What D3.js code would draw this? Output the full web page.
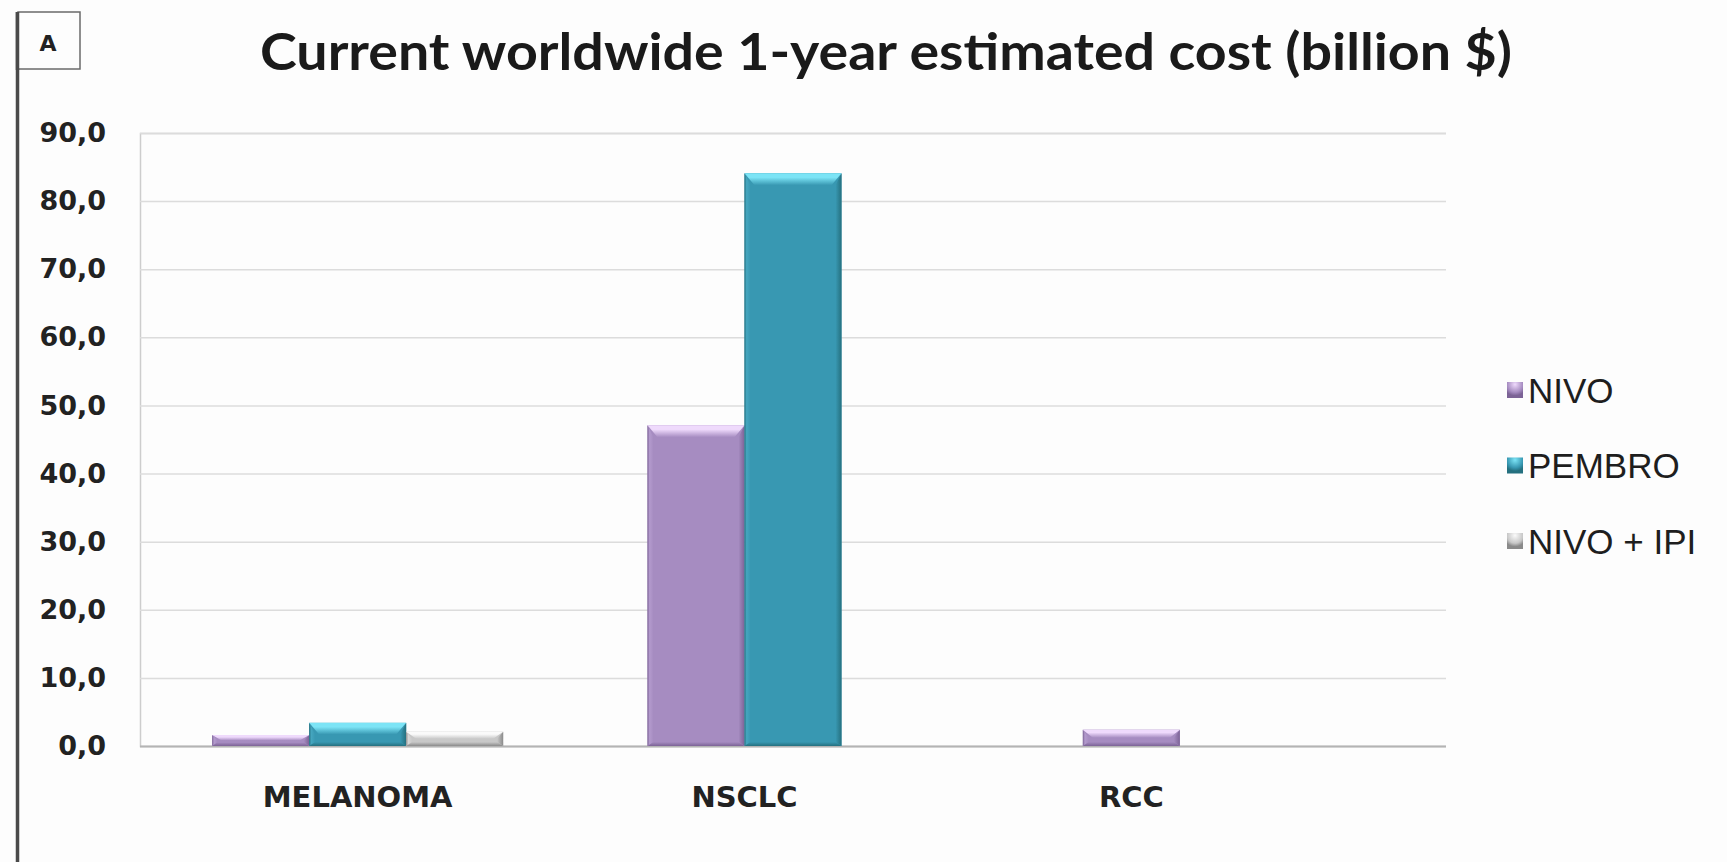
<!DOCTYPE html>
<html>
<head>
<meta charset="utf-8">
<script src="https://cdn.jsdelivr.net/npm/d3@7"></script>
<style>
  html, body { margin: 0; padding: 0; background: #fdfdfd; }
  svg { display: block; }
</style>
</head>
<body>
<div id="chart"></div>
<script>
// Data
const categories = ["MELANOMA", "NSCLC", "RCC"];
const seriesNames = ["NIVO", "PEMBRO", "NIVO + IPI"];
const nivoValues = [1.6, 47.1, 2.4];
const pembroValues = [3.4, 84.1, null];
const nivoIpiValues = [2.1, null, null];
const yTickValues = [0, 10, 20, 30, 40, 50, 60, 70, 80, 90];
const titleText = "Current worldwide 1-year estimated cost (billion $)";
const panelLetter = "A";

const seriesValues = [nivoValues, pembroValues, nivoIpiValues];

// Bevelled fills per series: body, top highlight, side highlight, shadow
const palette = {
  "NIVO":       { body: "#a68cc1", light: "#efdafc", side: "#b39acd", dark: "#7c6396" },
  "PEMBRO":     { body: "#3898b2", light: "#7ce4f6", side: "#45a6bf", dark: "#25707f" },
  "NIVO + IPI": { body: "#c8c8c8", light: "#fafafa", side: "#d8d8d8", dark: "#8a8a8a" }
};

const W = 1727, H = 862;
const plot = { left: 140, right: 1446, top: 133, bottom: 746 };

const svg = d3.select("#chart").append("svg")
  .attr("width", W).attr("height", H)
  .style("background", "#fdfdfd");

const defs = svg.append("defs");
seriesNames.forEach((s, i) => {
  const p = palette[s];
  const gTop = defs.append("linearGradient").attr("id", "top" + i)
    .attr("x1", 0).attr("y1", 0).attr("x2", 0).attr("y2", 1);
  gTop.append("stop").attr("offset", "0%").attr("stop-color", p.light);
  gTop.append("stop").attr("offset", "35%").attr("stop-color", p.light);
  gTop.append("stop").attr("offset", "100%").attr("stop-color", p.body);
  const gR = defs.append("linearGradient").attr("id", "right" + i)
    .attr("x1", 0).attr("y1", 0).attr("x2", 1).attr("y2", 0);
  gR.append("stop").attr("offset", "0%").attr("stop-color", p.body);
  gR.append("stop").attr("offset", "100%").attr("stop-color", p.dark);
  const gL = defs.append("linearGradient").attr("id", "left" + i)
    .attr("x1", 0).attr("y1", 0).attr("x2", 1).attr("y2", 0);
  gL.append("stop").attr("offset", "0%").attr("stop-color", p.dark);
  gL.append("stop").attr("offset", "35%").attr("stop-color", p.side);
  gL.append("stop").attr("offset", "100%").attr("stop-color", p.body);
  const gB = defs.append("linearGradient").attr("id", "bottom" + i)
    .attr("x1", 0).attr("y1", 0).attr("x2", 0).attr("y2", 1);
  gB.append("stop").attr("offset", "0%").attr("stop-color", p.body);
  gB.append("stop").attr("offset", "100%").attr("stop-color", p.dark);
  const gK = defs.append("radialGradient").attr("id", "key" + i)
    .attr("cx", "50%").attr("cy", "15%").attr("r", "70%");
  gK.append("stop").attr("offset", "0%").attr("stop-color", p.light);
  gK.append("stop").attr("offset", "70%").attr("stop-color", p.body);
  gK.append("stop").attr("offset", "100%").attr("stop-color", p.dark);
});

// Scales
const y = d3.scaleLinear().domain([0, 90]).range([plot.bottom, plot.top]);
const x0 = d3.scaleBand().domain(categories).range([plot.left, plot.right])
  .paddingInner(0).paddingOuter(0);
const x1 = d3.scaleBand().domain(seriesNames).range([0, x0.bandwidth()])
  .paddingInner(0).paddingOuter(0.744);

const fmt = v => d3.format(".1f")(v).replace(".", ",");

// Gridlines and value axis
const yAxis = d3.axisLeft(y).tickValues(yTickValues).tickSize(-(plot.right - plot.left)).tickFormat(fmt).tickPadding(34);
const gy = svg.append("g").attr("transform", `translate(${plot.left},0)`).call(yAxis);
gy.select(".domain").attr("stroke", "#cdcdcd").attr("stroke-width", 1.5);
gy.selectAll(".tick line")
  .attr("stroke", d => d === 0 ? "#b4b4b4" : "#dcdcdc")
  .attr("stroke-width", d => d === 0 ? 2 : 1.5);
gy.selectAll(".tick text")
  .attr("fill", "#222")
  .style("font-family", "'DejaVu Sans', Verdana, sans-serif")
  .style("font-weight", "bold")
  .style("font-size", "27px");

// Bars
const barData = [];
categories.forEach((c, ci) => {
  seriesNames.forEach((s, si) => {
    const v = seriesValues[si][ci];
    if (v != null) barData.push({ cat: c, series: s, si, value: v });
  });
});

const bars = svg.append("g").selectAll("g.bar").data(barData).join("g").attr("class", "bar");
bars.each(function(d) {
  const g = d3.select(this);
  const bx = x0(d.cat) + x1(d.series);
  const bw = x1.bandwidth();
  const by = y(d.value);
  const bh = y(0) - by;
  const p = palette[d.series];
  const bt = Math.min(12, bh / 2);
  const bs = Math.min(6, bw / 2, bh / 2);
  const bb = Math.min(4, bh / 3);
  g.append("rect").attr("x", bx).attr("y", by).attr("width", bw).attr("height", bh).attr("fill", p.body);
  // left edge
  g.append("polygon").attr("fill", `url(#left${d.si})`)
    .attr("points", [[bx, by], [bx + bs, by + bt], [bx + bs, by + bh - bb], [bx, by + bh]].join(" "));
  // right edge
  g.append("polygon").attr("fill", `url(#right${d.si})`)
    .attr("points", [[bx + bw, by], [bx + bw - bs, by + bt], [bx + bw - bs, by + bh - bb], [bx + bw, by + bh]].join(" "));
  // bottom edge
  g.append("polygon").attr("fill", `url(#bottom${d.si})`)
    .attr("points", [[bx, by + bh], [bx + bs, by + bh - bb], [bx + bw - bs, by + bh - bb], [bx + bw, by + bh]].join(" "));
  // top bevel
  g.append("polygon").attr("fill", `url(#top${d.si})`)
    .attr("points", [[bx, by], [bx + bw, by], [bx + bw - bs - 4, by + bt], [bx + bs + 4, by + bt]].join(" "));
});

// Category labels, centred under the bars present in each group
const catLabels = categories.map(c => {
  const centres = barData.filter(d => d.cat === c).map(d => x0(c) + x1(d.series) + x1.bandwidth() / 2);
  return { cat: c, x: d3.mean(centres) };
});
svg.append("g").selectAll("text").data(catLabels).join("text")
  .attr("x", d => d.x).attr("y", 807)
  .attr("text-anchor", "middle")
  .attr("fill", "#222")
  .style("font-family", "'DejaVu Sans', Verdana, sans-serif")
  .style("font-weight", "bold")
  .style("font-size", "29px")
  .text(d => d.cat);

// Legend
const legendY = d3.scalePoint().domain(seriesNames).range([390, 541]);
const lg = svg.append("g").selectAll("g").data(seriesNames).join("g")
  .attr("transform", d => `translate(1507,${legendY(d)})`);
lg.append("rect").attr("x", 0).attr("y", -8).attr("width", 16).attr("height", 16)
  .attr("fill", (d, i) => `url(#key${i})`);
lg.append("text").attr("x", 21).attr("y", 0).attr("dy", "0.36em")
  .attr("fill", "#1e1e1e")
  .style("font-family", "'Liberation Sans', Arial, sans-serif")
  .style("font-size", "35px")
  .text(d => d);

// Title
const title = svg.append("text")
  .attr("x", 260).attr("y", 70)
  .attr("fill", "#1a1a1a")
  .style("font-family", "Lato, 'Open Sans', sans-serif")
  .style("font-weight", "bold")
  .style("font-size", "51px")
  .text(titleText);
const natural = title.node().getComputedTextLength();
if (Math.abs(natural - 1252) > 4) {
  title.attr("textLength", 1252).attr("lengthAdjust", "spacingAndGlyphs");
}

// Panel frame and letter box
svg.append("line").attr("x1", 17.5).attr("x2", 17.5).attr("y1", 12).attr("y2", H)
  .attr("stroke", "#4a4a4a").attr("stroke-width", 3.5);
svg.append("rect").attr("x", 18).attr("y", 12).attr("width", 62).attr("height", 57)
  .attr("fill", "#fdfdfd").attr("stroke", "#6a6a6a").attr("stroke-width", 1.5);
svg.append("line").attr("x1", 17.5).attr("x2", 17.5).attr("y1", 12).attr("y2", 70)
  .attr("stroke", "#4a4a4a").attr("stroke-width", 3.5);
svg.append("text").attr("x", 48).attr("y", 51)
  .attr("text-anchor", "middle")
  .attr("fill", "#222")
  .style("font-family", "'DejaVu Sans', Verdana, sans-serif")
  .style("font-weight", "bold")
  .style("font-size", "22px")
  .text(panelLetter);
</script>
</body>
</html>
